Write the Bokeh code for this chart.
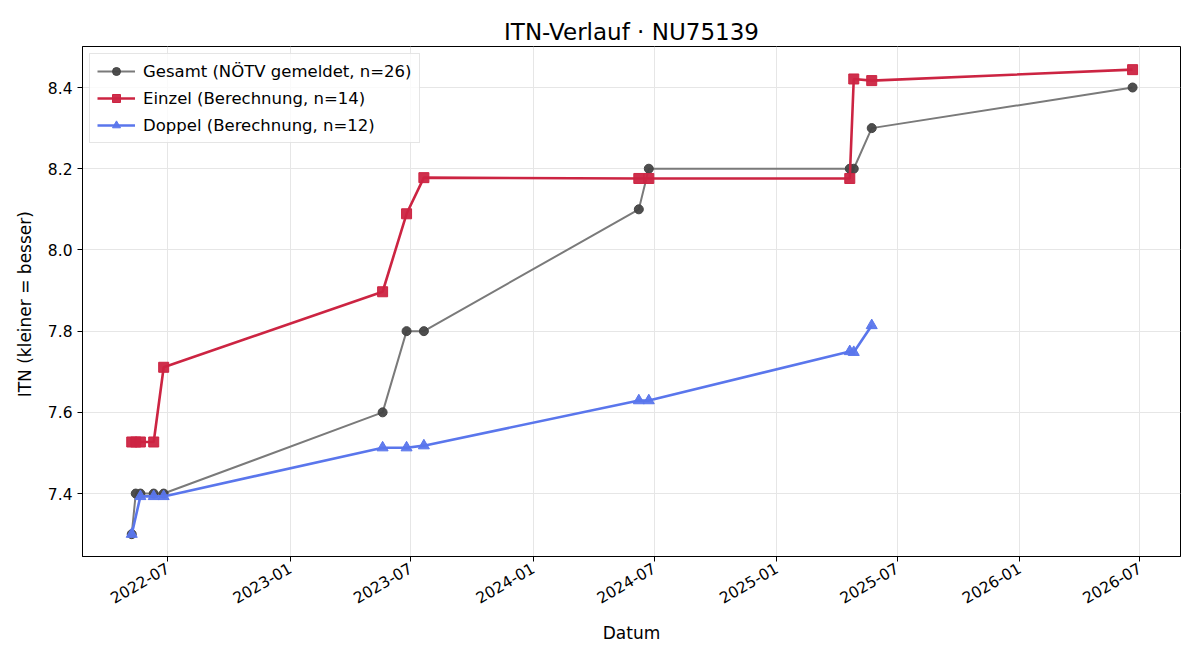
import pandas as pd
from math import pi
from bokeh.plotting import figure
from bokeh.models import (Range1d, DatetimeTickFormatter, MonthsTicker, FixedTicker,
                          NumeralTickFormatter, Legend, LegendItem)
from bokeh.embed import file_html
from bokeh.resources import INLINE

# ---- data ----
gesamt_dates = ["2022-05-08", "2022-05-14", "2022-05-21", "2022-06-10", "2022-06-25",
                "2023-05-20", "2023-06-25", "2023-07-21", "2024-06-08", "2024-06-23",
                "2025-04-21", "2025-04-27", "2025-05-24", "2026-06-20"]
gesamt_itn = [7.30, 7.40, 7.40, 7.40, 7.40,
              7.60, 7.80, 7.80, 8.10, 8.20,
              8.20, 8.20, 8.30, 8.40]

einzel_dates = ["2022-05-08", "2022-05-14", "2022-05-21", "2022-06-10", "2022-06-25",
                "2023-05-20", "2023-06-25", "2023-07-21", "2024-06-08", "2024-06-23",
                "2025-04-21", "2025-04-27", "2025-05-24", "2026-06-20"]
einzel_itn = [7.527, 7.527, 7.527, 7.527, 7.711,
              7.897, 8.089, 8.178, 8.176, 8.176,
              8.176, 8.421, 8.417, 8.444]

doppel_dates = ["2022-05-08", "2022-05-21", "2022-06-10", "2022-06-25",
                "2023-05-20", "2023-06-25", "2023-07-21", "2024-06-08", "2024-06-23",
                "2025-04-21", "2025-04-27", "2025-05-24"]
doppel_itn = [7.30, 7.393, 7.393, 7.393,
              7.513, 7.513, 7.518, 7.629, 7.629,
              7.750, 7.748, 7.814]

y_ticks = [7.4, 7.6, 7.8, 8.0, 8.2, 8.4]

FONT = "DejaVu Sans"

p = figure(width=1200, height=660, output_backend="svg", toolbar_location=None,
           x_axis_type="datetime",
           x_range=Range1d(pd.Timestamp("2022-02-23"), pd.Timestamp("2026-08-31")),
           y_range=Range1d(7.245, 8.501),
           min_border_left=82, min_border_right=20, min_border_top=46, min_border_bottom=104)

p.title.text = "ITN-Verlauf · NU75139"
p.title.align = "center"
p.title.text_font = FONT
p.title.text_font_size = "23px"
p.title.text_font_style = "normal"
p.title.text_color = "#000000"
p.title.standoff = 4

p.background_fill_color = "white"
p.border_fill_color = "white"
p.outline_line_color = "black"
p.outline_line_width = 1

p.xgrid.grid_line_color = "#e6e6e6"
p.ygrid.grid_line_color = "#e6e6e6"
p.xgrid.ticker = MonthsTicker(months=[0, 6])

p.xaxis.ticker = MonthsTicker(months=[0, 6])
p.xaxis.formatter = DatetimeTickFormatter(months="%Y-%m", days="%Y-%m", years="%Y-%m")
p.xaxis.major_label_orientation = pi / 6
p.yaxis.ticker = FixedTicker(ticks=y_ticks)
p.ygrid.ticker = FixedTicker(ticks=y_ticks)
p.yaxis.formatter = NumeralTickFormatter(format="0.0")

for ax in (p.xaxis, p.yaxis):
    ax.axis_line_color = "black"
    ax.major_tick_line_color = "black"
    ax.major_tick_out = 5
    ax.major_tick_in = 0
    ax.minor_tick_line_color = None
    ax.major_label_text_font = FONT
    ax.major_label_text_font_size = "15.5px"
    ax.major_label_text_color = "#000000"
    ax.axis_label_text_font = FONT
    ax.axis_label_text_font_size = "17px"
    ax.axis_label_text_font_style = "normal"
    ax.axis_label_text_color = "#000000"

p.xaxis.axis_label = "Datum"
p.yaxis.axis_label = "ITN  (kleiner = besser)"
p.xaxis.axis_label_standoff = 11
p.yaxis.axis_label_standoff = 10

gx = pd.to_datetime(gesamt_dates)
ex = pd.to_datetime(einzel_dates)
dx = pd.to_datetime(doppel_dates)

g_line = p.line(gx, gesamt_itn, line_color="#7a7a7a", line_width=2)
g_pts = p.scatter(gx, gesamt_itn, marker="circle", size=9, fill_color="#444444",
                  line_color="#444444", fill_alpha=0.95)

e_line = p.line(ex, einzel_itn, line_color="#cc2442", line_width=2.6)
e_pts = p.scatter(ex, einzel_itn, marker="square", size=10, fill_color="#cc2442",
                  line_color="#cc2442", fill_alpha=0.95)

d_line = p.line(dx, doppel_itn, line_color="#5a76ec", line_width=2.6)
d_pts = p.scatter(dx, doppel_itn, marker="triangle", size=11, fill_color="#5a76ec",
                  line_color="#5a76ec", fill_alpha=0.95)

legend = Legend(items=[
    LegendItem(label="Gesamt (NÖTV gemeldet, n=26)", renderers=[g_line, g_pts]),
    LegendItem(label="Einzel (Berechnung, n=14)", renderers=[e_line, e_pts]),
    LegendItem(label="Doppel (Berechnung, n=12)", renderers=[d_line, d_pts]),
], location="top_left")
legend.margin = 7
legend.padding = 7
legend.spacing = 7
legend.glyph_width = 38
legend.glyph_height = 20
legend.label_height = 20
legend.label_standoff = 8
legend.label_text_font = FONT
legend.label_text_font_size = "16.5px"
legend.label_text_color = "#000000"
legend.border_line_color = "#cccccc"
legend.border_line_width = 1
legend.background_fill_color = "white"
legend.background_fill_alpha = 0.8
p.add_layout(legend, "center")

open("out.html", "w").write(file_html(p, INLINE))
